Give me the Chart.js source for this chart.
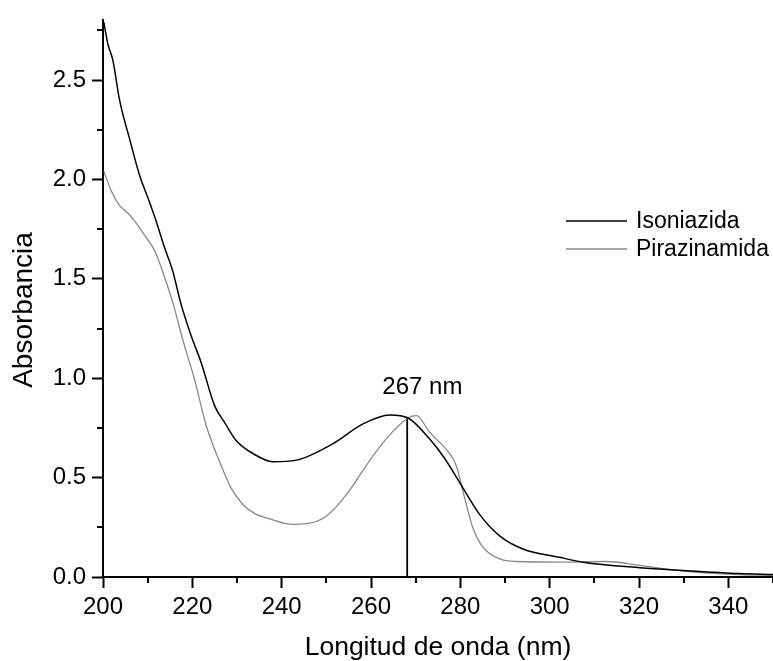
<!DOCTYPE html>
<html>
<head>
<meta charset="utf-8">
<script src="https://cdn.jsdelivr.net/npm/chart.js@4.4.1/dist/chart.umd.min.js"></script>
<style>
  html,body{margin:0;padding:0;background:#fff;}
  #wrap{width:773px;height:661px;position:relative;}
</style>
</head>
<body>
<div id="wrap"><canvas id="c" width="773" height="661"></canvas></div>
<script>
// Isoniazida (black)
const isoWl  = [200.2,201.1,202.2,203.7,206,208.2,210.1,211.9,213.8,215.6,217.5,219.8,222,225,227.2,229.8,233.6,238,243.3,251.5,258.2,264.2,268.3,273.1,276.5,280.6,284.3,288.8,294,302.2,307.5,320.2,329.8,342.5,350];
const isoAbs = [2.79,2.68,2.60,2.40,2.20,2.02,1.905,1.79,1.656,1.54,1.37,1.21,1.077,0.861,0.778,0.687,0.621,0.58,0.588,0.671,0.77,0.815,0.80,0.695,0.596,0.447,0.315,0.207,0.141,0.099,0.0745,0.047,0.033,0.017,0.012];

// Pirazinamida (grey)
const pyrWl  = [200.2,201.9,203.7,205.6,207.1,209.3,211.6,213.8,215.7,217.9,220.5,223.1,226.1,228.7,231.3,234.3,236.6,242.5,245.5,250,254.5,259,263.4,268.3,270.2,273.1,277.6,279.1,280.6,282.8,285.1,288.8,292.5,302.2,312.7,320.2,329.8,342.5,350];
const pyrAbs = [2.04,1.94,1.87,1.83,1.79,1.72,1.64,1.507,1.375,1.19,0.994,0.762,0.58,0.447,0.365,0.315,0.298,0.265,0.268,0.306,0.414,0.563,0.695,0.80,0.812,0.729,0.621,0.56,0.43,0.248,0.149,0.091,0.078,0.075,0.078,0.058,0.03,0.012,0.008];

// marker line at the crossing
const markerWl = [268.1,268.1];
const markerAbs = [0,0.80];
const markerText = '267 nm';

const xTicks = [200,220,240,260,280,300,320,340];
const yTicks = [0,0.5,1.0,1.5,2.0,2.5];

const pts=(xs,ys)=>xs.map((x,i)=>({x:x,y:ys[i]}));
const FONT='"Liberation Sans", Arial, sans-serif';

// minor ticks, y title, legend and the 267 nm label
const extras={
  id:'extras',
  afterDraw(chart){
    const ctx=chart.ctx, xs=chart.scales.x, ys=chart.scales.y, a=chart.chartArea;
    ctx.save();
    ctx.strokeStyle='#000'; ctx.lineWidth=2;
    for(let i=0;i<xTicks.length;i++){
      const v=xTicks[i]+10; if(v>350) continue;
      const px=Math.round(xs.getPixelForValue(v));
      ctx.beginPath(); ctx.moveTo(px,a.bottom); ctx.lineTo(px,a.bottom+6); ctx.stroke();
    }
    for(let i=0;i<yTicks.length;i++){
      const v=yTicks[i]+0.25; if(v>ys.max) continue;
      const py=Math.round(ys.getPixelForValue(v));
      ctx.beginPath(); ctx.moveTo(a.left,py); ctx.lineTo(a.left-6,py); ctx.stroke();
    }
    ctx.fillStyle='#000';
    // y title
    ctx.save();
    ctx.translate(24.5,310); ctx.rotate(-Math.PI/2);
    ctx.font='28px '+FONT; ctx.textAlign='center'; ctx.textBaseline='middle';
    ctx.fillText('Absorbancia',0,0);
    ctx.restore();
    // label above the marker
    ctx.font='24px '+FONT;
    ctx.textAlign='center'; ctx.textBaseline='middle';
    ctx.fillText(markerText, xs.getPixelForValue(271.5), ys.getPixelForValue(0.955));
    // legend
    const ds=chart.data.datasets;
    ctx.textAlign='left'; ctx.font='23px '+FONT;
    [0,1].forEach(i=>{
      const y=221+i*28;
      ctx.strokeStyle=ds[i].borderColor; ctx.lineWidth=ds[i].borderWidth;
      ctx.beginPath(); ctx.moveTo(566,y); ctx.lineTo(627,y); ctx.stroke();
      ctx.fillText(ds[i].label,636,y+1);
    });
    ctx.restore();
  }
};

new Chart(document.getElementById('c'),{
  type:'line',
  data:{datasets:[
    {label:'Isoniazida',data:pts(isoWl,isoAbs),borderColor:'#000',borderWidth:1.5,pointRadius:0,cubicInterpolationMode:'monotone'},
    {label:'Pirazinamida',data:pts(pyrWl,pyrAbs),borderColor:'#888',borderWidth:1.3,pointRadius:0,cubicInterpolationMode:'monotone'},
    {label:'marker',data:pts(markerWl,markerAbs),borderColor:'#000',borderWidth:1.8,pointRadius:0}
  ]},
  options:{
    responsive:false,animation:false,
    layout:{padding:{top:13,right:0,left:0,bottom:0}},
    plugins:{legend:{display:false},tooltip:{enabled:false}},
    scales:{
      x:{type:'linear',min:200,max:350,
        afterBuildTicks:s=>{s.ticks=xTicks.map(v=>({value:v}));},
        afterFit:s=>{s.height=661-13-564;},
        border:{display:true,color:'#000',width:2},
        grid:{drawOnChartArea:false,drawTicks:true,tickLength:11,tickWidth:2,tickColor:'#000'},
        ticks:{color:'#000',padding:5,maxRotation:0,font:{family:FONT,size:24}},
        title:{display:true,text:'Longitud de onda (nm)',color:'#000',font:{family:FONT,size:26.5,lineHeight:1},padding:0}
      },
      y:{type:'linear',min:0,max:2.8,
        afterBuildTicks:s=>{s.ticks=yTicks.map(v=>({value:v}));},
        afterFit:s=>{s.width=103;},
        border:{display:true,color:'#000',width:2},
        grid:{drawOnChartArea:false,drawTicks:true,tickLength:11,tickWidth:2,tickColor:'#000'},
        ticks:{color:'#000',padding:6,font:{family:FONT,size:24},callback:v=>v.toFixed(1)},
        title:{display:false}
      }
    }
  },
  plugins:[extras]
});
</script>
</body>
</html>
